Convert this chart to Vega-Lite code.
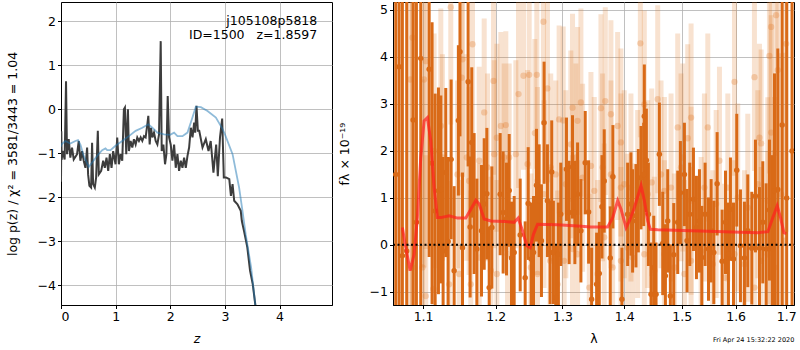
{
"$schema":"https://vega.github.io/schema/vega-lite/v6.json",
"padding":{"left":5,"top":1,"right":2,"bottom":0},
"spacing":4,
"config":{"font":"DejaVu Sans","view":{"stroke":"black","strokeWidth":1},
"axis":{"labelFontSize":12.5,"titleFontSize":12.5,"titleFontWeight":"normal","labelColor":"black","titleColor":"black","tickColor":"black","domainColor":"black","tickSize":3.5,"labelPadding":2,"gridColor":"#b0b0b0","gridWidth":0.8}},
"datasets":{
"pz":[{"z":0,"v":-1.65},{"z":0.006,"v":-0.5},{"z":0.012,"v":-1.15},{"z":0.031,"v":-0.95},{"z":0.067,"v":-1.14},{"z":0.092,"v":0.64},{"z":0.11,"v":-1.02},{"z":0.141,"v":-0.68},{"z":0.171,"v":-1.1},{"z":0.202,"v":-0.87},{"z":0.233,"v":-1.14},{"z":0.294,"v":-1.02},{"z":0.325,"v":-0.72},{"z":0.355,"v":-1.17},{"z":0.386,"v":-0.95},{"z":0.416,"v":-1.17},{"z":0.447,"v":-1.33},{"z":0.478,"v":-0.87},{"z":0.496,"v":-1.48},{"z":0.52,"v":-1.74},{"z":0.551,"v":-1.78},{"z":0.569,"v":-0.76},{"z":0.588,"v":-1.7},{"z":0.619,"v":-1.78},{"z":0.643,"v":-1.55},{"z":0.674,"v":-0.49},{"z":0.692,"v":-1.48},{"z":0.735,"v":-1.4},{"z":0.772,"v":-1.17},{"z":0.802,"v":-1.33},{"z":0.833,"v":-1.1},{"z":0.864,"v":-1.4},{"z":0.894,"v":-1.02},{"z":0.925,"v":-1.33},{"z":0.955,"v":-0.95},{"z":0.998,"v":-1.25},{"z":1.029,"v":-0.64},{"z":1.059,"v":-1.25},{"z":1.09,"v":-1.02},{"z":1.121,"v":-1.17},{"z":1.151,"v":0.0},{"z":1.17,"v":0.04},{"z":1.194,"v":-1.02},{"z":1.225,"v":0.0},{"z":1.243,"v":-0.95},{"z":1.274,"v":-0.72},{"z":1.305,"v":-0.87},{"z":1.335,"v":-0.68},{"z":1.366,"v":-0.8},{"z":1.396,"v":-0.64},{"z":1.427,"v":-0.72},{"z":1.458,"v":-0.64},{"z":1.488,"v":-0.72},{"z":1.519,"v":-0.61},{"z":1.549,"v":-0.64},{"z":1.58,"v":-0.34},{"z":1.598,"v":-0.15},{"z":1.623,"v":-0.8},{"z":1.647,"v":-0.42},{"z":1.672,"v":-0.64},{"z":1.702,"v":-0.53},{"z":1.733,"v":-0.72},{"z":1.764,"v":-0.8},{"z":1.794,"v":-0.57},{"z":1.825,"v":1.55},{"z":1.843,"v":-0.95},{"z":1.874,"v":-0.8},{"z":1.904,"v":-1.25},{"z":1.929,"v":-1.02},{"z":1.953,"v":0.3},{"z":1.978,"v":-0.64},{"z":2.008,"v":-0.8},{"z":2.039,"v":-1.17},{"z":2.07,"v":-0.8},{"z":2.1,"v":-1.33},{"z":2.131,"v":-1.02},{"z":2.161,"v":-1.4},{"z":2.192,"v":-1.17},{"z":2.223,"v":-1.33},{"z":2.253,"v":-1.1},{"z":2.284,"v":-1.33},{"z":2.315,"v":-1.06},{"z":2.345,"v":-0.87},{"z":2.376,"v":-0.42},{"z":2.407,"v":-0.64},{"z":2.437,"v":-0.3},{"z":2.456,"v":-0.53},{"z":2.48,"v":0.08},{"z":2.505,"v":-0.49},{"z":2.53,"v":-0.49},{"z":2.59,"v":-0.87},{"z":2.65,"v":-0.68},{"z":2.7,"v":-0.95},{"z":2.74,"v":-0.72},{"z":2.79,"v":-1.44},{"z":2.84,"v":-0.8},{"z":2.87,"v":-1.52},{"z":2.91,"v":-0.64},{"z":2.95,"v":-0.21},{"z":2.98,"v":-1.55},{"z":3.02,"v":-1.55},{"z":3.08,"v":-1.59},{"z":3.11,"v":-1.97},{"z":3.14,"v":-1.7},{"z":3.17,"v":-2.08},{"z":3.23,"v":-2.16},{"z":3.29,"v":-2.31},{"z":3.31,"v":-2.54},{"z":3.35,"v":-2.77},{"z":3.41,"v":-3.14},{"z":3.46,"v":-3.67},{"z":3.51,"v":-3.98},{"z":3.555,"v":-4.43},{"z":3.58,"v":-4.7}],
"pzfit":[{"z":0,"v":-0.85},{"z":0.006,"v":-0.8},{"z":0.08,"v":-0.72},{"z":0.171,"v":-0.78},{"z":0.263,"v":-0.72},{"z":0.312,"v":-0.7},{"z":0.355,"v":-0.8},{"z":0.416,"v":-1.06},{"z":0.508,"v":-1.31},{"z":0.57,"v":-1.21},{"z":0.661,"v":-1.06},{"z":0.753,"v":-0.93},{"z":0.814,"v":-0.89},{"z":0.845,"v":-0.93},{"z":0.906,"v":-0.93},{"z":0.998,"v":-0.83},{"z":1.121,"v":-0.72},{"z":1.243,"v":-0.61},{"z":1.366,"v":-0.49},{"z":1.488,"v":-0.42},{"z":1.598,"v":-0.34},{"z":1.672,"v":-0.42},{"z":1.764,"v":-0.53},{"z":1.886,"v":-0.57},{"z":1.996,"v":-0.58},{"z":2.07,"v":-0.53},{"z":2.131,"v":-0.61},{"z":2.223,"v":-0.61},{"z":2.315,"v":-0.53},{"z":2.394,"v":-0.23},{"z":2.468,"v":0.06},{"z":2.56,"v":0.05},{"z":2.682,"v":-0.04},{"z":2.835,"v":-0.19},{"z":2.958,"v":-0.45},{"z":3.0,"v":-0.57},{"z":3.14,"v":-1.02},{"z":3.26,"v":-1.78},{"z":3.32,"v":-2.3},{"z":3.38,"v":-2.84},{"z":3.48,"v":-3.6},{"z":3.555,"v":-4.43},{"z":3.58,"v":-4.7}],
"labels":[{"label":"j105108p5818","x":4.69,"y":2.0},{"label":"ID=1500\u00a0\u00a0\u00a0z=1.8597","x":4.69,"y":1.68}],
"model":[{"w":1.073,"f":0.37},{"w":1.0774,"f":-0.06},{"w":1.083,"f":-0.55},{"w":1.0882,"f":-0.2},{"w":1.0925,"f":0.58},{"w":1.0969,"f":1.86},{"w":1.1013,"f":2.64},{"w":1.1057,"f":2.71},{"w":1.1102,"f":2.21},{"w":1.1146,"f":1.22},{"w":1.1191,"f":0.58},{"w":1.1236,"f":0.58},{"w":1.1349,"f":0.62},{"w":1.1463,"f":0.57},{"w":1.1578,"f":0.57},{"w":1.1648,"f":0.76},{"w":1.1718,"f":0.95},{"w":1.1765,"f":0.87},{"w":1.1835,"f":0.55},{"w":1.1931,"f":0.51},{"w":1.2123,"f":0.5},{"w":1.227,"f":0.48},{"w":1.2328,"f":0.57},{"w":1.2393,"f":0.3},{"w":1.2457,"f":-0.02},{"w":1.2507,"f":-0.06},{"w":1.2557,"f":0.23},{"w":1.2618,"f":0.44},{"w":1.2924,"f":0.43},{"w":1.3238,"f":0.4},{"w":1.3452,"f":0.38},{"w":1.3724,"f":0.38},{"w":1.3807,"f":0.58},{"w":1.389,"f":0.94},{"w":1.3946,"f":0.76},{"w":1.403,"f":0.37},{"w":1.4086,"f":0.51},{"w":1.4171,"f":0.79},{"w":1.4285,"f":1.26},{"w":1.4342,"f":0.94},{"w":1.44,"f":0.51},{"w":1.4446,"f":0.33},{"w":1.4574,"f":0.32},{"w":1.5169,"f":0.3},{"w":1.5788,"f":0.28},{"w":1.6432,"f":0.26},{"w":1.663,"f":0.28},{"w":1.673,"f":0.58},{"w":1.6818,"f":0.83},{"w":1.6885,"f":0.58},{"w":1.6953,"f":0.26},{"w":1.7001,"f":0.24}],
"dark":[{"w":1.0645,"f":1.5,"e":8},{"w":1.0688,"f":3.79,"e":8},{"w":1.073,"f":-0.23,"e":8},{"w":1.0786,"f":-0.13,"e":8},{"w":1.0869,"f":2.66,"e":8},{"w":1.0912,"f":0.48,"e":8},{"w":1.0969,"f":3.97,"e":8},{"w":1.108,"f":3.74,"e":4},{"w":1.1119,"f":1.74,"e":3},{"w":1.116,"f":0.72,"e":2.5},{"w":1.1204,"f":1.15,"e":2.2},{"w":1.1236,"f":1.18,"e":2},{"w":1.1267,"f":-0.13,"e":2},{"w":1.1303,"f":1.54,"e":1.8},{"w":1.1335,"f":0.07,"e":1.8},{"w":1.1376,"f":1.82,"e":1.7},{"w":1.1417,"f":-0.55,"e":1.8},{"w":1.1475,"f":2.65,"e":1.6},{"w":1.1497,"f":4.11,"e":1.8},{"w":1.1532,"f":-0.06,"e":1.6},{"w":1.161,"f":3.47,"e":1.8},{"w":1.1638,"f":0.38,"e":1.5},{"w":1.1661,"f":2.18,"e":1.6},{"w":1.1694,"f":0.88,"e":1.5},{"w":1.1732,"f":-0.09,"e":1.5},{"w":1.1798,"f":0.3,"e":1.4},{"w":1.1836,"f":0.87,"e":1.4},{"w":1.1874,"f":1.09,"e":1.4},{"w":1.1907,"f":-0.91,"e":1.3},{"w":1.1945,"f":0.37,"e":1.3},{"w":1.2065,"f":1.08,"e":1.3},{"w":1.2108,"f":0.69,"e":1.3},{"w":1.2157,"f":0.55,"e":1.2},{"w":1.2196,"f":1.16,"e":1.2},{"w":1.223,"f":-0.28,"e":1.2},{"w":1.2269,"f":-0.16,"e":1.2},{"w":1.2358,"f":0.21,"e":1.2},{"w":1.2432,"f":-0.7,"e":1.2},{"w":1.2477,"f":0.88,"e":1.2},{"w":1.2522,"f":-0.3,"e":1.2},{"w":1.2557,"f":-0.16,"e":1.2},{"w":1.2602,"f":1.27,"e":1.2},{"w":1.2642,"f":0.94,"e":1.2},{"w":1.2677,"f":0.09,"e":1.2},{"w":1.2717,"f":2.6,"e":1.3},{"w":1.2768,"f":0.94,"e":1.2},{"w":1.2809,"f":-0.16,"e":1.1},{"w":1.2834,"f":1.55,"e":1.1},{"w":1.286,"f":-0.16,"e":1.1},{"w":1.2896,"f":-1.12,"e":1.1},{"w":1.2937,"f":-0.2,"e":1.1},{"w":1.2974,"f":0.65,"e":1.1},{"w":1.3063,"f":1.61,"e":1.1},{"w":1.3105,"f":0.69,"e":1.1},{"w":1.3158,"f":1.66,"e":1.1},{"w":1.3195,"f":0.69,"e":1.1},{"w":1.3238,"f":1.08,"e":1.1},{"w":1.3291,"f":0.3,"e":1.1},{"w":1.336,"f":1.75,"e":1.1},{"w":1.3414,"f":0.7,"e":1.1},{"w":1.3463,"f":-1.16,"e":1.1},{"w":1.3544,"f":-0.84,"e":1.1},{"w":1.3587,"f":-0.61,"e":1.1},{"w":1.3631,"f":0.81,"e":1.1},{"w":1.3668,"f":1.36,"e":1.1},{"w":1.3767,"f":-0.28,"e":1.1},{"w":1.3811,"f":1.45,"e":1.1},{"w":1.3961,"f":-1.16,"e":1.1},{"w":1.4057,"f":0.65,"e":1.1},{"w":1.4113,"f":0.87,"e":1.1},{"w":1.4141,"f":0.51,"e":1.1},{"w":1.4198,"f":0.62,"e":1.1},{"w":1.4238,"f":0.94,"e":1.1},{"w":1.4284,"f":1.43,"e":1.1},{"w":1.433,"f":1.5,"e":1.1},{"w":1.4341,"f":2.74,"e":1.1},{"w":1.4376,"f":1.8,"e":1.1},{"w":1.4411,"f":0.65,"e":1.1},{"w":1.4457,"f":-1.05,"e":1.1},{"w":1.4504,"f":-0.48,"e":1.1},{"w":1.4544,"f":-1.05,"e":1.1},{"w":1.4602,"f":1.93,"e":1.1},{"w":1.4661,"f":0.03,"e":1.1},{"w":1.4708,"f":-0.66,"e":1.1},{"w":1.4749,"f":0.51,"e":1.1},{"w":1.4796,"f":-1.09,"e":1.1},{"w":1.4856,"f":-0.21,"e":1.1},{"w":1.4927,"f":0.48,"e":1.1},{"w":1.4975,"f":1.11,"e":1.1},{"w":1.5047,"f":1.5,"e":1.1},{"w":1.5095,"f":0.09,"e":1.1},{"w":1.5144,"f":0.65,"e":1.1},{"w":1.5211,"f":0.97,"e":1.1},{"w":1.5266,"f":0.37,"e":1.1},{"w":1.5321,"f":0.51,"e":1.1},{"w":1.5364,"f":-0.27,"e":1.1},{"w":1.5425,"f":0.65,"e":1.1},{"w":1.5488,"f":-0.09,"e":1.1},{"w":1.5537,"f":0.3,"e":1.1},{"w":1.5587,"f":-0.16,"e":1.1},{"w":1.5649,"f":1.3,"e":1.1},{"w":1.5743,"f":-0.35,"e":1.1},{"w":1.5807,"f":0.48,"e":1.1},{"w":1.5863,"f":-0.2,"e":1.1},{"w":1.5901,"f":0.76,"e":1.1},{"w":1.5959,"f":-0.3,"e":1.2},{"w":1.6022,"f":1.59,"e":1.2},{"w":1.6093,"f":-0.02,"e":1.2},{"w":1.617,"f":-0.28,"e":1.2},{"w":1.6235,"f":0.3,"e":1.2},{"w":1.6313,"f":-0.07,"e":1.2},{"w":1.6385,"f":1.04,"e":1.2},{"w":1.6464,"f":-0.07,"e":1.3},{"w":1.653,"f":0.48,"e":1.3},{"w":1.6596,"f":-0.09,"e":1.4},{"w":1.6662,"f":0.74,"e":1.5},{"w":1.6716,"f":-0.09,"e":2},{"w":1.6763,"f":1.15,"e":2.5},{"w":1.683,"f":1.18,"e":3},{"w":1.6918,"f":2.55,"e":5},{"w":1.701,"f":1.0,"e":8},{"w":1.712,"f":2.0,"e":8}],
"light":[{"w":1.083,"f":3.52,"e":6},{"w":1.086,"f":4.41,"e":6},{"w":1.1013,"f":3.52,"e":4},{"w":1.1035,"f":3.91,"e":4},{"w":1.1236,"f":2.53,"e":2.5},{"w":1.1371,"f":5.06,"e":2.5},{"w":1.1532,"f":3.95,"e":2.5},{"w":1.1522,"f":3.56,"e":2.5},{"w":1.1592,"f":1.86,"e":2.2},{"w":1.1671,"f":4.27,"e":2.3},{"w":1.1765,"f":1.79,"e":2},{"w":1.1836,"f":2.82,"e":2},{"w":1.1969,"f":3.49,"e":2},{"w":1.2017,"f":2.28,"e":2},{"w":1.2075,"f":2.53,"e":2},{"w":1.2147,"f":2.55,"e":2},{"w":1.2196,"f":1.86,"e":2},{"w":1.2333,"f":3.21,"e":2},{"w":1.2407,"f":3.6,"e":2},{"w":1.2492,"f":3.62,"e":2},{"w":1.2607,"f":3.62,"e":2},{"w":1.2577,"f":2.38,"e":2},{"w":1.2707,"f":4.75,"e":2.2},{"w":1.2768,"f":3.33,"e":2},{"w":1.2819,"f":1.65,"e":2},{"w":1.2948,"f":2.67,"e":2},{"w":1.3012,"f":2.65,"e":2},{"w":1.3131,"f":2.14,"e":2},{"w":1.3158,"f":2.92,"e":2},{"w":1.3238,"f":2.64,"e":2},{"w":1.3291,"f":3.03,"e":2},{"w":1.3452,"f":1.68,"e":2},{"w":1.3614,"f":2.91,"e":2},{"w":1.3685,"f":3.06,"e":2},{"w":1.3778,"f":2.78,"e":2},{"w":1.3889,"f":2.53,"e":2},{"w":1.3944,"f":2.18,"e":2},{"w":1.4,"f":1.29,"e":2},{"w":1.4273,"f":4.29,"e":2},{"w":1.4341,"f":2.99,"e":2},{"w":1.4469,"f":1.33,"e":2},{"w":1.4573,"f":3.1,"e":2},{"w":1.469,"f":1.15,"e":2},{"w":1.4927,"f":2.5,"e":2},{"w":1.5017,"f":1.86,"e":2},{"w":1.5107,"f":2.27,"e":2},{"w":1.5168,"f":2.71,"e":2},{"w":1.5475,"f":2.5,"e":2},{"w":1.5693,"f":1.79,"e":2},{"w":1.5978,"f":3.47,"e":2},{"w":1.6365,"f":3.57,"e":2},{"w":1.6464,"f":2.28,"e":2},{"w":1.6497,"f":2.16,"e":2},{"w":1.6662,"f":4.02,"e":2.5},{"w":1.6696,"f":2.39,"e":2.5},{"w":1.683,"f":3.72,"e":3},{"w":1.6796,"f":4.89,"e":3},{"w":1.6999,"f":4.28,"e":4},{"w":1.6696,"f":4.64,"e":3},
{"w":1.086,"f":-0.48,"e":6},{"w":1.0991,"f":-0.48,"e":4},{"w":1.1035,"f":-1.09,"e":3},{"w":1.1137,"f":-0.94,"e":2.5},{"w":1.1349,"f":-0.84,"e":2.2},{"w":1.1486,"f":-0.62,"e":2},{"w":1.1647,"f":-0.84,"e":2},{"w":1.1765,"f":-0.27,"e":2},{"w":1.1931,"f":-0.55,"e":2},{"w":1.2017,"f":-0.62,"e":2},{"w":1.2172,"f":-0.2,"e":2},{"w":1.2517,"f":-0.48,"e":2},{"w":1.2617,"f":-0.62,"e":2},{"w":1.2809,"f":-0.34,"e":2},{"w":1.2924,"f":-0.84,"e":2},{"w":1.3027,"f":-0.34,"e":2},{"w":1.3158,"f":-0.09,"e":2},{"w":1.3238,"f":-0.2,"e":2},{"w":1.3425,"f":-0.91,"e":2},{"w":1.356,"f":-0.62,"e":2},{"w":1.3668,"f":0.16,"e":2},{"w":1.3806,"f":-0.48,"e":2},{"w":1.3944,"f":-0.34,"e":2},{"w":1.4057,"f":-0.06,"e":2},{"w":1.4141,"f":-0.27,"e":2},{"w":1.4341,"f":-0.2,"e":2},{"w":1.4515,"f":-0.55,"e":2},{"w":1.469,"f":-0.2,"e":2},{"w":1.4867,"f":-0.48,"e":2},{"w":1.5047,"f":-0.62,"e":2},{"w":1.5168,"f":-0.34,"e":2},{"w":1.5352,"f":-0.13,"e":2},{"w":1.5568,"f":-0.41,"e":2},{"w":1.5788,"f":-0.7,"e":2},{"w":1.5978,"f":-0.2,"e":2},{"w":1.617,"f":-0.41,"e":2},{"w":1.6365,"f":-0.91,"e":2},{"w":1.6497,"f":-0.34,"e":2},{"w":1.6629,"f":-0.2,"e":2.2},{"w":1.6763,"f":-0.48,"e":2.5},{"w":1.6966,"f":0.09,"e":4},
{"w":1.1146,"f":2.0,"e":2.5},{"w":1.1258,"f":1.86,"e":2.2},{"w":1.1463,"f":1.5,"e":2},{"w":1.1624,"f":1.36,"e":2},{"w":1.1883,"f":1.65,"e":2},{"w":1.1979,"f":1.93,"e":2},{"w":1.2123,"f":1.86,"e":2},{"w":1.2294,"f":1.93,"e":2},{"w":1.2467,"f":1.72,"e":2},{"w":1.2617,"f":1.36,"e":2},{"w":1.2717,"f":1.08,"e":2},{"w":1.2896,"f":1.5,"e":2},{"w":1.3053,"f":1.29,"e":2},{"w":1.3211,"f":1.86,"e":2},{"w":1.3318,"f":1.43,"e":2},{"w":1.3506,"f":1.15,"e":2},{"w":1.3641,"f":1.65,"e":2},{"w":1.3778,"f":1.5,"e":2},{"w":1.3944,"f":1.22,"e":2},{"w":1.4113,"f":1.22,"e":2},{"w":1.4227,"f":0.87,"e":2},{"w":1.4399,"f":1.08,"e":2},{"w":1.4631,"f":1.5,"e":2},{"w":1.4808,"f":1.22,"e":2},{"w":1.4987,"f":1.65,"e":2},{"w":1.5168,"f":0.94,"e":2},{"w":1.5413,"f":1.22,"e":2},{"w":1.5631,"f":0.87,"e":2},{"w":1.5851,"f":1.22,"e":2},{"w":1.6041,"f":1.01,"e":2},{"w":1.6235,"f":0.79,"e":2},{"w":1.6431,"f":1.29,"e":2},{"w":1.6629,"f":0.94,"e":2.2},{"w":1.6763,"f":0.65,"e":2.5},{"w":1.6897,"f":1.08,"e":3}],
"stamp":[{"label":"Fri Apr 24 15:32:22 2020","w":1.635,"f":-2.02}]
},
"hconcat":[
{"width":271,"height":303,
"encoding":{
"x":{"field":"z","type":"quantitative","scale":{"domain":[0,4.96],"nice":false,"zero":false},"axis":{"values":[0,1,2,3,4],"title":"z","titleFontStyle":"italic","titlePadding":9}},
"y":{"field":"v","type":"quantitative","scale":{"domain":[-4.45,2.44],"nice":false,"zero":false},"axis":{"values":[-4,-3,-2,-1,0,1,2],"title":"log p(z) / χ² = 3581/3443 = 1.04","titlePadding":18}}},
"layer":[
{"data":{"name":"pz"},"mark":{"type":"line","color":"#3d3d3d","strokeWidth":2,"clip":true}},
{"data":{"name":"pzfit"},"mark":{"type":"line","color":"#1f77b4","opacity":0.5,"strokeWidth":1.8,"clip":true}},
{"data":{"name":"labels"},"mark":{"type":"text","align":"right","baseline":"middle","fontSize":12.5,"color":"black"},
"encoding":{"x":{"field":"x","type":"quantitative"},"y":{"field":"y","type":"quantitative"},"text":{"field":"label"}}}
]},
{"width":401,"height":303,
"encoding":{
"x":{"field":"w","type":"quantitative","scale":{"type":"log","domain":[1.061,1.716],"nice":false},"axis":{"values":[1.1,1.2,1.3,1.4,1.5,1.6,1.7],"format":".1f","title":"λ","titlePadding":9}},
"y":{"field":"f","type":"quantitative","scale":{"domain":[-1.28,5.17],"nice":false,"zero":false},"axis":{"values":[-1,0,1,2,3,4,5],"title":"fλ × 10⁻¹⁹","titlePadding":18}}},
"layer":[
{"data":{"name":"light"},"mark":{"type":"errorbar","color":"#e07b2a","opacity":0.22,"thickness":5,"clip":true},"encoding":{"yError":{"field":"e"}}},
{"data":{"name":"light"},"mark":{"type":"point","filled":true,"color":"#e07b2a","opacity":0.3,"size":40,"clip":true}},
{"data":{"name":"dark"},"mark":{"type":"errorbar","color":"#d96a17","opacity":1,"thickness":3,"clip":true},"encoding":{"yError":{"field":"e"}}},
{"data":{"name":"dark"},"mark":{"type":"point","filled":true,"color":"#d96a17","opacity":1,"size":30,"clip":true}},
{"data":{"name":"model"},"mark":{"type":"line","color":"#ff2020","opacity":0.7,"strokeWidth":3,"clip":true}},
{"data":{"values":[{"f":0}]},"mark":{"type":"rule","color":"black","strokeWidth":2,"strokeDash":[2,2.5]},"encoding":{"y":{"field":"f","type":"quantitative"},"x":{"value":0},"x2":{"value":401}}},
{"data":{"name":"stamp"},"mark":{"type":"text","fontSize":6.5,"color":"black","align":"center","baseline":"middle"},"encoding":{"text":{"field":"label"}}}
]}
]
}
